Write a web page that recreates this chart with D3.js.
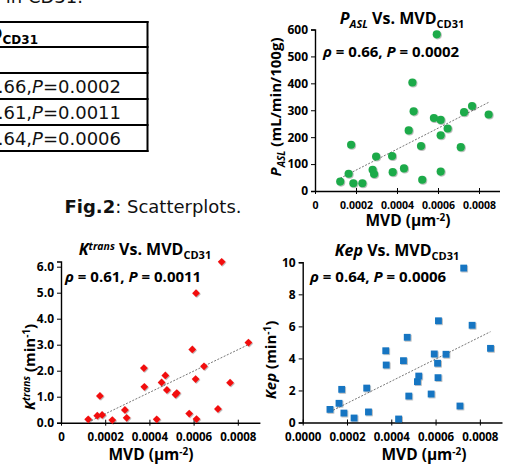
<!DOCTYPE html>
<html>
<head>
<meta charset="utf-8">
<script src="https://cdn.jsdelivr.net/npm/d3@7"></script>
<style>
  body { margin: 0; background: #fff; }
  svg { display: block; }
</style>
</head>
<body>
<script>
// MVD (um^-2) of each lesion, ASL plot has one extra lesion
var mvdAsl = [0.000123, 0.000164, 0.000176, 0.000187, 0.000231, 0.000281, 0.000288, 0.000298, 0.000376, 0.000379,
              0.000434, 0.000457, 0.000475, 0.000481, 0.000517, 0.000523, 0.000580, 0.000594, 0.000613, 0.000613,
              0.000613, 0.000647, 0.000711, 0.000727, 0.000766, 0.000847];
var pasl = [35, 64, 172, 29, 29, 79, 63, 128, 130, 70,
            84, 225, 403, 296, 167, 42, 271, 582, 264, 207,
            72, 232, 163, 293, 316, 284];

var mvd = [0.000123, 0.000164, 0.000176, 0.000186, 0.000232, 0.000289, 0.000297, 0.000375, 0.000377, 0.000433,
           0.000455, 0.000472, 0.000479, 0.000518, 0.000524, 0.000580, 0.000594, 0.000609, 0.000611, 0.000613,
           0.000647, 0.000710, 0.000727, 0.000765, 0.000848];
var ktrans = [0.13, 0.27, 1.03, 0.30, 0.10, 0.49, 0.19, 2.10, 1.38, 0.13,
              1.55, 1.82, 1.26, 1.08, 1.14, 0.35, 2.82, 1.68, 4.98, 0.14,
              2.17, 0.53, 6.19, 1.54, 3.08];
var kep = [0.82, 1.20, 2.07, 0.59, 0.28, 2.15, 0.66, 4.48, 3.59, 0.22,
           3.86, 5.32, 1.65, 2.55, 2.90, 1.78, 4.28, 3.70, 2.80, 6.35,
           4.26, 1.03, 9.64, 6.07, 4.63];

var xTicks = [0, 0.0002, 0.0004, 0.0006, 0.0008];
var xLabels = ["0", "0.0002", "0.0004", "0.0006", "0.0008"];
var xLabelsKep = ["0.0000", "0.0002", "0.0004", "0.0006", "0.0008"];
var aslTicks = [0, 100, 200, 300, 400, 500, 600];
var ktransTicks = [0, 1, 2, 3, 4, 5, 6];
var kepTicks = [0, 2, 4, 6, 8, 10];

// table rows (left part of the table is cut off)
var rhoVals = ["0.66", "0.61", "0.64"];
var pVals = ["0.0002", "0.0011", "0.0006"];

var svg = d3.select("body").append("svg")
    .attr("width", 509)
    .attr("height", 466);

var defs = svg.append("defs");
var f = defs.append("filter").attr("id", "shadow")
    .attr("x", "-50%").attr("y", "-50%").attr("width", "200%").attr("height", "200%");
f.append("feDropShadow").attr("dx", 0.8).attr("dy", 0.8).attr("stdDeviation", 0.7)
    .attr("flood-color", "#000").attr("flood-opacity", 0.35);

var chartFont = "'Open Sans', sans-serif";
var textFont = "'DejaVu Sans', sans-serif";

// text made of styled pieces; sh = vertical shift (px, down positive)
function rich(text, parts) {
  var cur = 0;
  parts.forEach(function(p) {
    var ts = text.append("tspan").text(p.t);
    var sh = p.sh || 0;
    if (sh != cur) { ts.attr("dy", sh - cur); cur = sh; }
    if (p.i) ts.attr("font-style", "italic");
    if (p.b) ts.attr("font-weight", "bold");
    if (p.n) ts.attr("font-weight", "normal");
    if (p.fs) ts.attr("font-size", p.fs);
  });
  return text;
}

function fit(xs, ys) {
  var mx = d3.mean(xs), my = d3.mean(ys);
  var sxy = d3.sum(xs, function(x, i) { return (x - mx) * (ys[i] - my); });
  var sxx = d3.sum(xs, function(x) { return (x - mx) * (x - mx); });
  var b = sxy / sxx;
  return { b: b, a: my - b * mx };
}

// ---------- table fragment ----------
var tb = svg.append("g");
[22, 47, 73, 99, 125, 151].forEach(function(y) {
  tb.append("line").attr("x1", -5).attr("x2", 148.5).attr("y1", y).attr("y2", y)
    .attr("stroke", "#000").attr("stroke-width", 2);
});
tb.append("line").attr("x1", 147.5).attr("x2", 147.5).attr("y1", 21).attr("y2", 152)
  .attr("stroke", "#000").attr("stroke-width", 2);

rich(tb.append("text").attr("x", 38).attr("y", 40).attr("text-anchor", "end")
    .attr("font-family", textFont).attr("font-size", 18).attr("font-weight", "bold"),
  [{ t: "MVD" }, { t: "CD31", sh: 4, fs: 12 }]);

rhoVals.forEach(function(r, i) {
  rich(tb.append("text").attr("x", 121).attr("y", 92.5 + i * 26).attr("text-anchor", "end")
      .attr("font-family", textFont).attr("font-size", 18).attr("fill", "#111"),
    [{ t: "ρ=" + r + "," }, { t: "P", i: 1 }, { t: "=" + pVals[i] }]);
});

svg.append("text").attr("x", 83).attr("y", 2.5).attr("text-anchor", "end")
  .attr("font-family", textFont).attr("font-size", 18).attr("fill", "#111")
  .text("with MVD in CD31.");

rich(svg.append("text").attr("x", 153).attr("y", 213).attr("text-anchor", "middle")
    .attr("font-family", textFont).attr("font-size", 18).attr("fill", "#111"),
  [{ t: "Fig.2", b: 1 }, { t: ": Scatterplots." }]);

// ---------- scatter plots ----------
function scatter(c) {
  var g = svg.append("g").attr("font-family", chartFont);
  var x = d3.scaleLinear().domain([0, 0.0009]).range(c.xr);
  var y = d3.scaleLinear().domain(c.yd).range(c.yr);

  var xa = g.append("g").attr("transform", "translate(0," + c.yr[0] + ")")
    .call(d3.axisBottom(x).tickValues(xTicks).tickSizeOuter(0)
      .tickFormat(function(d, i) { return c.xLabels[i]; }));
  xa.selectAll(".tick line").attr("y1", -3).attr("y2", 3);
  xa.selectAll(".tick text").attr("y", c.xlY).attr("dy", 0)
    .attr("font-size", c.xfs).attr("font-weight", "bold").attr("font-family", chartFont);

  var ya = g.append("g").attr("transform", "translate(" + c.xr[0] + ",0)")
    .call(d3.axisLeft(y).tickValues(c.yTicks).tickSizeOuter(0).tickSize(4).tickPadding(3));
  ya.selectAll(".tick text").attr("font-size", 12).attr("font-weight", "bold").attr("font-family", chartFont);

  g.selectAll(".domain").attr("stroke", "#000").attr("stroke-width", 1.4);
  g.selectAll(".tick line").attr("stroke", "#000").attr("stroke-width", 1);

  var lf = fit(c.xs, c.ys);
  var ex = d3.extent(c.xs);
  g.append("line")
    .attr("x1", x(ex[0])).attr("y1", y(lf.a + lf.b * ex[0]))
    .attr("x2", x(ex[1])).attr("y2", y(lf.a + lf.b * ex[1]))
    .attr("stroke", "#777").attr("stroke-width", 1).attr("stroke-dasharray", "2,1.5");

  g.append("g").attr("filter", "url(#shadow)")
    .selectAll("path").data(c.ys).enter().append("path")
    .attr("d", d3.symbol().type(c.shape).size(c.size))
    .attr("transform", function(d, i) {
      return "translate(" + x(c.xs[i]) + "," + y(d) + ")" + (c.rot ? " rotate(45)" : "");
    })
    .attr("fill", c.color);

  rich(g.append("text").attr("x", c.title[0]).attr("y", c.title[1]).attr("text-anchor", "middle")
      .attr("font-size", 16).attr("font-weight", "bold"), c.titleParts);

  rich(g.append("text").attr("x", c.note[0]).attr("y", c.note[1])
      .attr("font-size", 15).attr("font-weight", "bold"), c.noteParts);

  rich(g.append("text").attr("x", c.xt[0]).attr("y", c.xt[1]).attr("text-anchor", "middle")
      .attr("font-size", 15.5).attr("font-weight", "bold"),
    [{ t: "MVD (µm" }, { t: "-2", sh: -5, fs: 10 }, { t: ")", sh: 0 }]);

  rich(g.append("text").attr("text-anchor", "middle")
      .attr("transform", "translate(" + c.yt[0] + "," + c.yt[1] + ") rotate(-90)")
      .attr("font-size", 15).attr("font-weight", "bold"), c.yParts);
}

scatter({
  xs: mvdAsl, ys: pasl, xLabels: xLabels, yTicks: aslTicks,
  xr: [315, 499.5], yd: [0, 600], yr: [191, 29.5], xlY: 17.5, xfs: 10.5,
  shape: d3.symbolCircle, size: 52, color: "#1eaa4a",
  title: [402, 24], titleParts: [{ t: "P", i: 1 }, { t: "ASL", i: 1, sh: 4, fs: 11 }, { t: " Vs. MVD", sh: 0 }, { t: "CD31", sh: 4, fs: 11 }],
  note: [323, 57], noteParts: [{ t: "ρ", i: 1 }, { t: " = 0.66, " }, { t: "P", i: 1 }, { t: " = 0.0002" }],
  xt: [408, 226], yt: [281, 107],
  yParts: [{ t: "P", i: 1 }, { t: "ASL", i: 1, sh: 4, fs: 10 }, { t: " (mL/min/100g)", sh: 0 }]
});

scatter({
  xs: mvd, ys: ktrans, xLabels: xLabels, yTicks: ktransTicks,
  xr: [61, 259.9], yd: [0, 6.2], yr: [422.7, 261.5], xlY: 18, xfs: 11.5,
  shape: d3.symbolSquare, size: 30, rot: true, color: "#f20d0d",
  title: [145, 255], titleParts: [{ t: "K", i: 1 }, { t: "trans", i: 1, sh: -5, fs: 10.5 }, { t: " Vs. MVD", sh: 0 }, { t: "CD31", sh: 4, fs: 11 }],
  note: [65, 282], noteParts: [{ t: "ρ", i: 1 }, { t: " = 0.61, " }, { t: "P", i: 1 }, { t: " = 0.0011" }],
  xt: [151, 460], yt: [35, 367],
  yParts: [{ t: "K", i: 1 }, { t: "trans", i: 1, sh: -5, fs: 10 }, { t: " (min", sh: 0 }, { t: "-1", sh: -5, fs: 10 }, { t: ")", sh: 0 }]
});

scatter({
  xs: mvd, ys: kep, xLabels: xLabelsKep, yTicks: kepTicks,
  xr: [302.7, 502], yd: [0, 10], yr: [422.5, 262.3], xlY: 18, xfs: 11.5,
  shape: d3.symbolSquare, size: 46, color: "#1274c2",
  title: [397, 256], titleParts: [{ t: "Kep", i: 1 }, { t: " Vs. MVD" }, { t: "CD31", sh: 4, fs: 11 }],
  note: [310, 282], noteParts: [{ t: "ρ", i: 1 }, { t: " = 0.64, " }, { t: "P", i: 1 }, { t: " = 0.0006" }],
  xt: [424, 460], yt: [276, 360],
  yParts: [{ t: "Kep", i: 1 }, { t: " (min" }, { t: "-1", sh: -5, fs: 10 }, { t: ")", sh: 0 }]
});
</script>
</body>
</html>
